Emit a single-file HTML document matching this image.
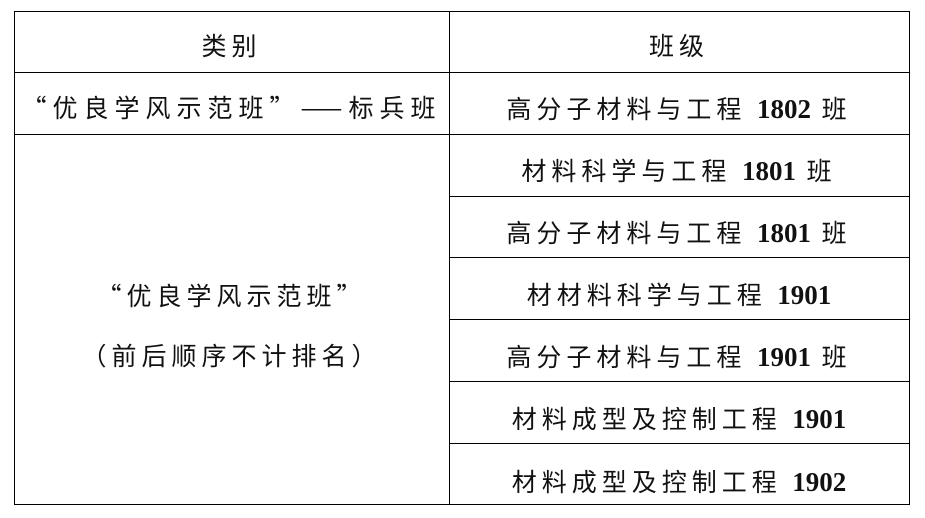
<!DOCTYPE html>
<html><head><meta charset="utf-8"><style>
html,body{margin:0;padding:0;background:#fff;}
body{width:925px;height:518px;position:relative;overflow:hidden;font-family:"Liberation Serif","Noto Sans CJK SC",serif;color:#111;}
.h{position:absolute;height:1px;background:#000;}
.v{position:absolute;width:1px;background:#000;}
.t{position:absolute;text-align:center;font-size:25px;letter-spacing:5px;white-space:nowrap;line-height:30px;font-family:"Noto Sans CJK SC",sans-serif;font-weight:400;}
.t b{font-family:"Liberation Serif",serif;font-weight:bold;font-size:27px;letter-spacing:0;}
</style></head><body>
<div class="h" style="left:14px;width:896px;top:11px"></div>
<div class="h" style="left:14px;width:896px;top:72px"></div>
<div class="h" style="left:14px;width:896px;top:134px"></div>
<div class="h" style="left:449px;width:461px;top:196px"></div>
<div class="h" style="left:449px;width:461px;top:257px"></div>
<div class="h" style="left:449px;width:461px;top:319px"></div>
<div class="h" style="left:449px;width:461px;top:381px"></div>
<div class="h" style="left:449px;width:461px;top:443px"></div>
<div class="h" style="left:14px;width:896px;top:504px"></div>
<div class="v" style="left:14px;top:11px;height:494px"></div>
<div class="v" style="left:449px;top:11px;height:494px"></div>
<div class="v" style="left:909px;top:11px;height:494px"></div>

<div class="t" style="left:14px;width:435px;top:30px">类别</div>
<div class="t" style="left:449px;width:460px;top:30px">班级</div>
<div class="t" style="left:14px;width:435px;top:92px;letter-spacing:6px">“优良学风示范班”——标兵班</div>
<div class="t" style="left:14px;width:435px;top:280px">“优良学风示范班”</div>
<div class="t" style="left:14px;width:435px;top:340px">（前后顺序不计排名）</div>

<div class="t" style="left:449px;width:460px;top:93px">高分子材料与工程 <b>1802</b> 班</div>
<div class="t" style="left:449px;width:460px;top:155px">材料科学与工程 <b>1801</b> 班</div>
<div class="t" style="left:449px;width:460px;top:217px">高分子材料与工程 <b>1801</b> 班</div>
<div class="t" style="left:449px;width:460px;top:279px">材材料科学与工程 <b>1901</b></div>
<div class="t" style="left:449px;width:460px;top:341px">高分子材料与工程 <b>1901</b> 班</div>
<div class="t" style="left:449px;width:460px;top:403px">材料成型及控制工程 <b>1901</b></div>
<div class="t" style="left:449px;width:460px;top:466px">材料成型及控制工程 <b>1902</b></div>
</body></html>
